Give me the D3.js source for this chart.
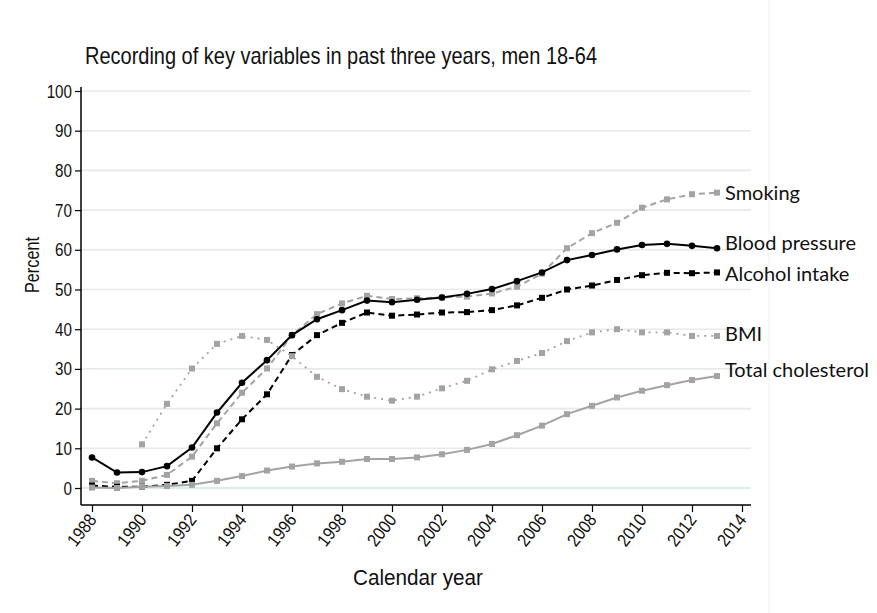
<!DOCTYPE html>
<html><head><meta charset="utf-8">
<script src="https://cdn.jsdelivr.net/npm/d3@7"></script>
<style>body{margin:0;background:#fff}</style>
</head><body>
<svg id="c" width="877" height="613"></svg>
<script>
const years = d3.range(1988, 2014);
const smoking = [1.8,1.2,1.8,3.3,7.9,16.3,24.0,30.1,38.5,43.8,46.5,48.4,47.6,47.8,48.0,48.2,49.0,50.7,54.0,60.4,64.2,66.8,70.6,72.7,74.0,74.4];
const bloodPressure = [7.7,3.9,4.0,5.5,10.2,19.0,26.5,32.2,38.5,42.5,44.8,47.2,46.8,47.4,48.0,48.9,50.1,52.1,54.3,57.4,58.7,60.1,61.2,61.5,61.0,60.4];
const alcohol = [0.6,0.3,0.3,0.8,1.8,10.0,17.3,23.6,33.5,38.5,41.6,44.2,43.4,43.7,44.2,44.3,44.8,46.0,47.9,50.0,51.0,52.4,53.6,54.2,54.1,54.3];
const bmi = [null,null,11.0,21.2,30.1,36.3,38.3,37.3,33.2,28.0,24.9,23.0,22.0,23.0,25.1,27.0,29.9,32.0,34.0,37.0,39.2,40.0,39.2,39.2,38.3,38.3];
const cholesterol = [0.1,0.0,0.3,0.5,0.8,1.8,3.0,4.4,5.4,6.2,6.6,7.3,7.3,7.7,8.5,9.6,11.1,13.3,15.7,18.6,20.7,22.8,24.5,25.9,27.2,28.2];
const seriesNames = ["Smoking","Blood pressure","Alcohol intake","BMI","Total cholesterol"];
const xTicks = d3.range(1988, 2015, 2);
const yTicks = d3.range(0, 101, 10);
const title = "Recording of key variables in past three years, men 18-64";

const svg = d3.select("#c");
const x = d3.scaleLinear().domain([1988, 2014]).range([92, 742]);
const y = d3.scaleLinear().domain([0, 100]).range([488, 91]);
const left = 81, right = 751, bottom = 505;

function squeeze(sel, f) {
  sel.each(function() {
    const L = this.getComputedTextLength();
    d3.select(this).attr("textLength", L * f).attr("lengthAdjust", "spacingAndGlyphs");
  });
}

svg.append("line").attr("x1",769).attr("x2",769).attr("y1",0).attr("y2",613).attr("stroke","#f2f2f2");

// gridlines
svg.append("g").selectAll("line").data(yTicks).join("line")
  .attr("x1", left).attr("x2", right).attr("y1", d=>y(d)).attr("y2", d=>y(d))
  .attr("stroke", d=> d===0 ? "#d3e6e2" : "#e6eaea").attr("stroke-width", 1.6);

// axes
const yAxis = d3.axisLeft(y).tickValues(yTicks).tickSize(6).tickPadding(3);
const gy = svg.append("g").attr("transform",`translate(${left},0)`).call(yAxis);
gy.select(".domain").attr("d", `M0,${bottom}V${y(100)-4}`).attr("stroke","#000").attr("stroke-width",1.5);
gy.selectAll(".tick line").attr("stroke","#000").attr("stroke-width",1.2);
gy.selectAll(".tick text").attr("font-family","Liberation Sans, Arial").attr("font-size",19).attr("fill","#111");
squeeze(gy.selectAll(".tick text"), 0.8);

const xAxis = d3.axisBottom(x).tickValues(xTicks).tickSize(7).tickFormat(d3.format("d"));
const gx = svg.append("g").attr("transform",`translate(0,${bottom})`).call(xAxis);
gx.select(".domain").attr("d", `M${left},0H${right}`).attr("stroke","#000").attr("stroke-width",1.5);
gx.selectAll(".tick line").attr("stroke","#000").attr("stroke-width",1.2);
gx.selectAll(".tick text").attr("font-family","Liberation Sans, Arial").attr("font-size",18).attr("fill","#111")
  .attr("text-anchor","end").attr("dy",null).attr("y",0)
  .attr("transform","translate(5,15) rotate(-52)");
squeeze(gx.selectAll(".tick text"), 0.88);

// series
const grey = "#a3a3a3";
const specs = [
  {name: seriesNames[0], vals: smoking, color: grey, dash: "6,4", marker: "square", width: 2},
  {name: seriesNames[1], vals: bloodPressure, color: "#000", dash: null, marker: "circle", width: 2},
  {name: seriesNames[2], vals: alcohol, color: "#000", dash: "6,4", marker: "square", width: 2},
  {name: seriesNames[3], vals: bmi, color: grey, dash: "2,5", marker: "square", width: 1.8},
  {name: seriesNames[4], vals: cholesterol, color: grey, dash: null, marker: "square", width: 2}
];
const labelDy = [0, -5, 1, -2, -6];
const line = d3.line().defined(d=>d.v!=null).x(d=>x(d.yr)).y(d=>y(d.v));
specs.forEach((s,i)=>{
  const pts = years.map((yr,j)=>({yr, v:s.vals[j]}));
  const g = svg.append("g");
  g.append("path").datum(pts).attr("d", line).attr("fill","none")
   .attr("stroke", s.color).attr("stroke-width", s.width)
   .attr("stroke-dasharray", s.dash);
  const valid = pts.filter(d=>d.v!=null);
  if (s.marker === "circle") {
    g.selectAll("circle").data(valid).join("circle")
      .attr("cx", d=>x(d.yr)).attr("cy", d=>y(d.v)).attr("r", 3.3).attr("fill", s.color);
  } else {
    g.selectAll("rect").data(valid).join("rect")
      .attr("x", d=>x(d.yr)-3).attr("y", d=>y(d.v)-3).attr("width",6).attr("height",6).attr("fill", s.color);
  }
  const last = valid[valid.length-1];
  svg.append("text").attr("x", x(last.yr) + 8).attr("y", y(last.v)+labelDy[i]).attr("dy","0.36em")
    .attr("font-family","Lato, Noto Sans, sans-serif").attr("font-size",20).attr("fill","#111")
    .text(s.name);
});

// titles
const tt = svg.append("text").attr("x", 85).attr("y", 64).attr("font-family","Liberation Sans, Arial")
  .attr("font-size",24).attr("fill","#111").text(title);
tt.attr("textLength", 512).attr("lengthAdjust","spacingAndGlyphs");
const py = svg.append("text").attr("transform","translate(39,265) rotate(-90)").attr("text-anchor","middle")
  .attr("font-family","Liberation Sans, Arial").attr("font-size",21).attr("fill","#111").text("Percent");
py.attr("textLength", 56).attr("lengthAdjust","spacingAndGlyphs");
const px = svg.append("text").attr("x", 418).attr("y", 585).attr("text-anchor","middle")
  .attr("font-family","Liberation Sans, Arial").attr("font-size",22).attr("fill","#111").text("Calendar year");
px.attr("textLength", 130).attr("lengthAdjust","spacingAndGlyphs");
</script>
</body></html>
